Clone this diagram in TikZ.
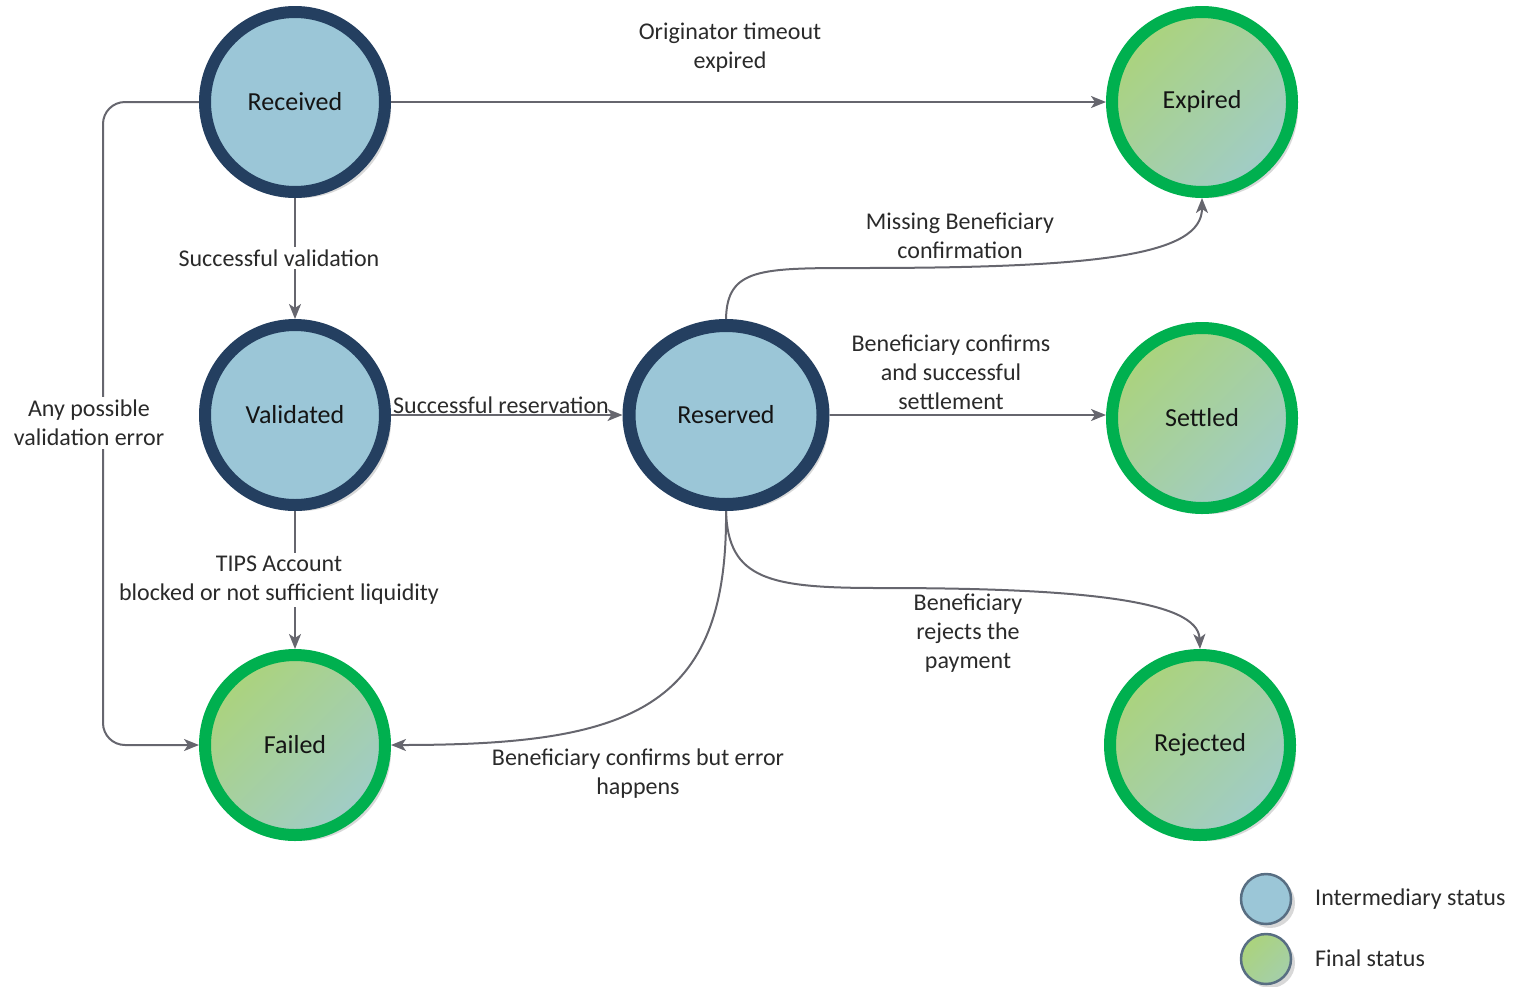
\documentclass[tikz,border=0pt]{standalone}
\usepackage{fontspec}
\setmainfont{Carlito}
\usetikzlibrary{arrows.meta,shapes.geometric,shadows}
\definecolor{navy}{HTML}{243F60}
\definecolor{bluef}{HTML}{9BC6D7}
\definecolor{grn}{HTML}{00B04F}
\definecolor{gA}{HTML}{ABD37C}
\definecolor{gB}{HTML}{A0CCC8}
\definecolor{lc}{HTML}{66666E}
\definecolor{txt}{HTML}{141414}
\definecolor{ltxt}{HTML}{2A2A2A}
\definecolor{legb}{HTML}{586E82}
\tikzset{
  st/.style={circle, minimum size=180pt, inner sep=0pt, line width=12pt,
    font=\fontsize{26}{30}\selectfont, text=txt,
    drop shadow={shadow xshift=6pt, shadow yshift=-6pt, fill=black!30, opacity=.5}},
  inter/.style={st, draw=navy, fill=bluef},
  final/.style={st, draw=grn, top color=gA, middle color=gA!80!gB, bottom color=gB, shading angle=45},
  arr/.style={draw=lc, line width=2pt, -{Stealth[length=15pt,width=12pt,inset=4pt]}},
  lbl/.style={font=\fontsize{24}{29}\selectfont, text=ltxt, align=center, inner sep=1pt},
  lblw/.style={lbl, fill=white, inner sep=3pt},
  leg/.style={circle, minimum size=50pt, inner sep=0pt, line width=2.5pt, draw=legb,
    drop shadow={shadow xshift=4pt, shadow yshift=-4pt, fill=black!30, opacity=.5}},
  legt/.style={font=\fontsize{24}{29}\selectfont, text=ltxt, anchor=west, inner sep=0pt}
}
\begin{document}
\begin{tikzpicture}[x=1pt,y=-1pt]
\useasboundingbox (0,0) rectangle (1517,986);
% states
\node[inter] (rec) at (295,102) {Received};
\node[inter] (val) at (295,415) {Validated};
\node[inter, ellipse, minimum width=194pt, minimum height=179pt, line width=13pt] (res) at (726,415) {Reserved};
\node[final] (exp) at (1202,102) {Expired};
\node[final] (set) at (1202,418) {Settled};
\node[final] (fail) at (295,745) {Failed};
\node[final] (rej) at (1200,745) {Rejected};
% connectors
\draw[arr] (rec) -- (exp);
\node[lbl] (l1) at (730,48) {Originator timeout\\expired};
\draw[arr] (rec) -- (val);
\node[lblw] (l2) at (279,258) {Successful validation};
\coordinate (lx) at (103,423);
\draw[arr, rounded corners=22pt] (rec.west) -| (lx) |- (fail.west);
\node[lblw] (l3) at (89,423) {Any possible\\validation error};
\draw[arr] (val) -- (res);
\node[lbl, anchor=south, inner sep=0pt] (l4) at (501,414) {Successful reservation};
\draw[arr] (val) -- (fail);
\node[lblw] (l5) at (279,580) {TIPS Account\\blocked or not sufficient liquidity};
\coordinate (m1) at (860,268);
\draw[arr] (res.north) .. controls (727,268) and (760,268) .. (m1)
   .. controls (1100,268) and (1202,255) .. (exp.south);
\node[lbl] (l6) at (960,236) {Missing Beneficiary\\confirmation};
\draw[arr] (res) -- (res -| set.west);
\node[lbl] (l7) at (951,372) {Beneficiary confirms\\and successful\\settlement};
\coordinate (m2) at (880,588);
\draw[arr] (res.south) .. controls (728,580) and (770,588) .. (m2)
   .. controls (1080,588) and (1198,600) .. (rej.north);
\node[lbl] (l8) at (968,633) {Beneficiary\\rejects the\\payment};
\draw[arr] (res.south) .. controls (728,710) and (630,745) .. (fail.east);
\node[lbl] (l9) at (638,774) {Beneficiary confirms but error\\happens};
% legend
\node[leg, fill=bluef] (k1) at (1266,899) {};
\node[leg, top color=gA, bottom color=gB!60!gA, shading angle=45] (k2) at (1266,959) {};
\node[legt] (t1) at (1315,899) {Intermediary status};
\node[legt] (t2) at (1315,958) {Final status};
\end{tikzpicture}
\end{document}
